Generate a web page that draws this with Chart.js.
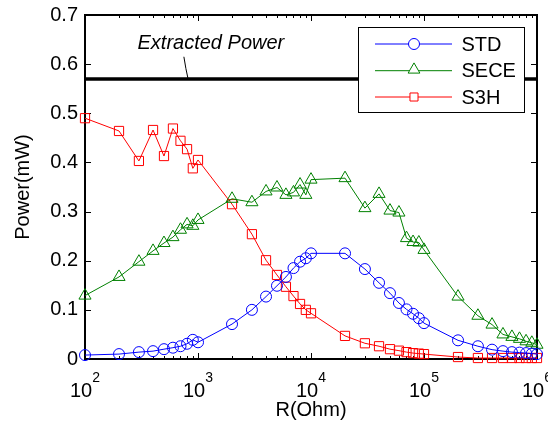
<!DOCTYPE html>
<html><head><meta charset="utf-8">
<script src="https://cdn.jsdelivr.net/npm/chart.js@4/dist/chart.umd.min.js"></script>
<style>html,body{margin:0;padding:0;background:#fff;}canvas{display:block;}</style>
</head><body>
<canvas id="c" width="548" height="428"></canvas>
<script>
// ---- data ----
const resistance = [100,200,300,400,500,600,700,800,900,1000,
  2000,3000,4000,5000,6000,7000,8000,9000,10000,
  20000,30000,40000,50000,60000,70000,80000,90000,100000,
  200000,300000,400000,500000,600000,700000,800000,900000,1000000];
const stdPower = [0.008,0.010,0.014,0.016,0.020,0.023,0.026,0.031,0.039,0.034,
  0.071,0.100,0.127,0.149,0.167,0.185,0.198,0.205,0.215,
  0.215,0.183,0.155,0.134,0.114,0.101,0.092,0.083,0.073,
  0.038,0.026,0.019,0.016,0.014,0.013,0.012,0.011,0.010];
const secePower = [0.129,0.167,0.198,0.220,0.236,0.248,0.263,0.274,0.271,0.283,
  0.326,0.319,0.341,0.349,0.334,0.339,0.355,0.334,0.365,
  0.368,0.307,0.336,0.302,0.298,0.246,0.238,0.237,0.222,
  0.127,0.088,0.070,0.050,0.045,0.041,0.036,0.033,0.029];
const s3hPower = [0.490,0.464,0.403,0.466,0.413,0.469,0.444,0.427,0.388,0.405,
  0.315,0.254,0.201,0.171,0.147,0.128,0.112,0.100,0.093,
  0.047,0.032,0.026,0.020,0.017,0.014,0.012,0.011,0.010,
  0.004,0.002,0.002,0.002,0.002,0.002,0.002,0.002,0.002];
const extractedPower = 0.57;
const seriesNames = ['STD','SECE','S3H'];
const xTickExponents = [2,3,4,5,6];
const xTickBase = '10';
const yTickValues = [0,0.1,0.2,0.3,0.4,0.5,0.6,0.7];
const yTickLabels = ['0','0.1','0.2','0.3','0.4','0.5','0.6','0.7'];
const extractedLabel = 'Extracted Power';
const extractedLabelAt = [1300, 0.642];
const leaderFrom = [750, 0.615];
const leaderTo = [815, 0.571];

const FONT = "'Liberation Sans', Arial, Helvetica, sans-serif";
Chart.defaults.font.family = FONT;
Chart.defaults.font.size = 20;
Chart.defaults.color = '#000';

const pts = arr => resistance.map((r,i)=>({x:r,y:arr[i]}));

function marker(ctx, style, x, y, r){
  ctx.beginPath();
  if (style==='circle'){ ctx.arc(x,y,r,0,Math.PI*2); }
  else if (style==='triangle'){
    let rad = 0;
    ctx.moveTo(x+Math.sin(rad)*r, y-Math.cos(rad)*r);
    rad += Math.PI*2/3; ctx.lineTo(x+Math.sin(rad)*r, y-Math.cos(rad)*r);
    rad += Math.PI*2/3; ctx.lineTo(x+Math.sin(rad)*r, y-Math.cos(rad)*r);
    ctx.closePath();
  } else {
    const s = Math.SQRT1_2*r; ctx.rect(x-s,y-s,2*s,2*s);
  }
  ctx.fillStyle='#fff'; ctx.fill();
  ctx.stroke();
}

const framePlugin = {
  id:'frame',
  beforeDatasetsDraw(chart){
    const {ctx, chartArea:a, scales:{x,y}} = chart;
    ctx.save();
    ctx.strokeStyle='#000'; ctx.lineWidth=1;
    ctx.beginPath();
    for (let e=2;e<6;e++){
      for (let m=1;m<10;m++){
        const px = Math.round(x.getPixelForValue(m*Math.pow(10,e)))+0.5;
        const len = m===1?6:3;
        ctx.moveTo(px,a.bottom); ctx.lineTo(px,a.bottom-len);
        ctx.moveTo(px,a.top); ctx.lineTo(px,a.top+len);
      }
    }
    yTickValues.forEach(v=>{
      const py = Math.round(y.getPixelForValue(v))+0.5;
      ctx.moveTo(a.left,py); ctx.lineTo(a.left+6,py);
      ctx.moveTo(a.right,py); ctx.lineTo(a.right-6,py);
    });
    ctx.stroke();
    ctx.lineWidth=2;
    ctx.strokeRect(a.left,a.top,a.right-a.left,a.bottom-a.top);
    // x tick labels: base with superscript exponent
    ctx.fillStyle='#000';
    ctx.textBaseline='alphabetic';
    x.ticks.forEach(t=>{
      const e = Math.round(Math.log10(t.value));
      const px = x.getPixelForValue(t.value);
      ctx.font = "20px " + FONT;
      const wb = ctx.measureText(xTickBase).width;
      ctx.font = "14px " + FONT;
      const we = ctx.measureText(String(e)).width;
      const start = px - (wb+we)/2;
      ctx.font = "20px " + FONT; ctx.textAlign='left';
      ctx.fillText(xTickBase, start, a.bottom+38);
      ctx.font = "14px " + FONT;
      ctx.fillText(String(e), start+wb, a.bottom+23);
    });
    ctx.restore();
  }
};

const annotPlugin = {
  id:'annot',
  afterDatasetsDraw(chart){
    const {ctx, scales:{x,y}} = chart;
    ctx.save();
    ctx.fillStyle='#000';
    ctx.font = "italic 20px " + FONT;
    ctx.textAlign='center'; ctx.textBaseline='middle';
    ctx.fillText(extractedLabel, x.getPixelForValue(extractedLabelAt[0]), y.getPixelForValue(extractedLabelAt[1]));
    const x0 = x.getPixelForValue(leaderFrom[0]), y0 = y.getPixelForValue(leaderFrom[1]);
    const x1 = x.getPixelForValue(leaderTo[0]), y1 = y.getPixelForValue(leaderTo[1]);
    ctx.strokeStyle='#000'; ctx.lineWidth=1;
    ctx.beginPath(); ctx.moveTo(x0,y0);
    ctx.quadraticCurveTo(x0+2,(y0+y1)/2+2, x1,y1);
    ctx.stroke();
    ctx.restore();
  }
};

const legendPlugin = {
  id:'customLegend',
  afterDraw(chart){
    const {ctx, chartArea:a} = chart;
    const w=166, h=85;
    const left = a.right - 13 - w, top = a.top + 12;
    ctx.save();
    ctx.fillStyle='#fff'; ctx.fillRect(left,top,w,h);
    ctx.strokeStyle='#000'; ctx.lineWidth=1;
    ctx.strokeRect(left+0.5,top+0.5,w,h);
    const rows=[17,43.7,70];
    chart.data.datasets.slice(0,3).forEach((ds,i)=>{
      const yy = top + rows[i];
      ctx.strokeStyle = ds.borderColor; ctx.lineWidth=1;
      ctx.beginPath(); ctx.moveTo(left+17,yy); ctx.lineTo(left+94,yy); ctx.stroke();
      const r = ds.pointStyle==='circle'?5.5:(ds.pointStyle==='triangle'?6.8:5.7);
      marker(ctx, ds.pointStyle, left+56, ds.pointStyle==='triangle'?yy-1:yy, r);
      ctx.fillStyle='#000'; ctx.font = "20px " + FONT;
      ctx.textAlign='left'; ctx.textBaseline='middle';
      ctx.fillText(ds.label, left+103.5, yy+1);
    });
    ctx.restore();
  }
};

const mk = (label,color,style,radius,data)=>({
  label, data: pts(data), borderColor:color, backgroundColor:'rgba(0,0,0,0)',
  borderWidth:1, pointStyle:style, pointRadius:radius, pointBorderWidth:1,
  pointBorderColor:color, pointBackgroundColor:'rgba(0,0,0,0)', clip:false, tension:0
});

new Chart(document.getElementById('c'),{
  type:'line',
  data:{datasets:[
    mk(seriesNames[0],'#0000ff','circle',5.5,stdPower),
    mk(seriesNames[1],'#008000','triangle',7,secePower),
    mk(seriesNames[2],'#ff0000','rect',6.5,s3hPower),
    {label:'Extracted Power', data:[{x:resistance[0],y:extractedPower},{x:resistance[resistance.length-1],y:extractedPower}],
     borderColor:'#000', borderWidth:3.5, pointRadius:0, clip:false}
  ]},
  options:{
    responsive:false, animation:false, devicePixelRatio:1, events:[],
    layout:{padding:{top:15,right:11,left:0,bottom:0}},
    plugins:{legend:{display:false}, tooltip:{enabled:false}},
    scales:{
      x:{type:'logarithmic', min:100, max:1000000,
        grid:{display:false, drawTicks:false}, border:{display:false},
        afterBuildTicks:(s)=>{ s.ticks = xTickExponents.map(e=>({value:Math.pow(10,e)})); },
        afterFit:(s)=>{ s.height = 69; s.paddingLeft = 0; s.paddingRight = 0; },
        ticks:{display:false},
        title:{display:true, text:'R(Ohm)', padding:{top:0,bottom:6}}
      },
      y:{min:0, max:0.7,
        grid:{display:false, drawTicks:false}, border:{display:false},
        afterBuildTicks:(s)=>{ s.ticks = yTickValues.map(v=>({value:v})); },
        afterFit:(s)=>{ s.width = 85; s.paddingTop = 0; s.paddingBottom = 0; },
        ticks:{padding:7, callback:(v)=>{ const i = yTickValues.findIndex(t=>Math.abs(t-v)<1e-9); return i>=0?yTickLabels[i]:''; }},
        title:{display:true, text:'Power(mW)', padding:{top:11,bottom:0}}
      }
    }
  },
  plugins:[framePlugin, annotPlugin, legendPlugin]
});
</script>
</body></html>
